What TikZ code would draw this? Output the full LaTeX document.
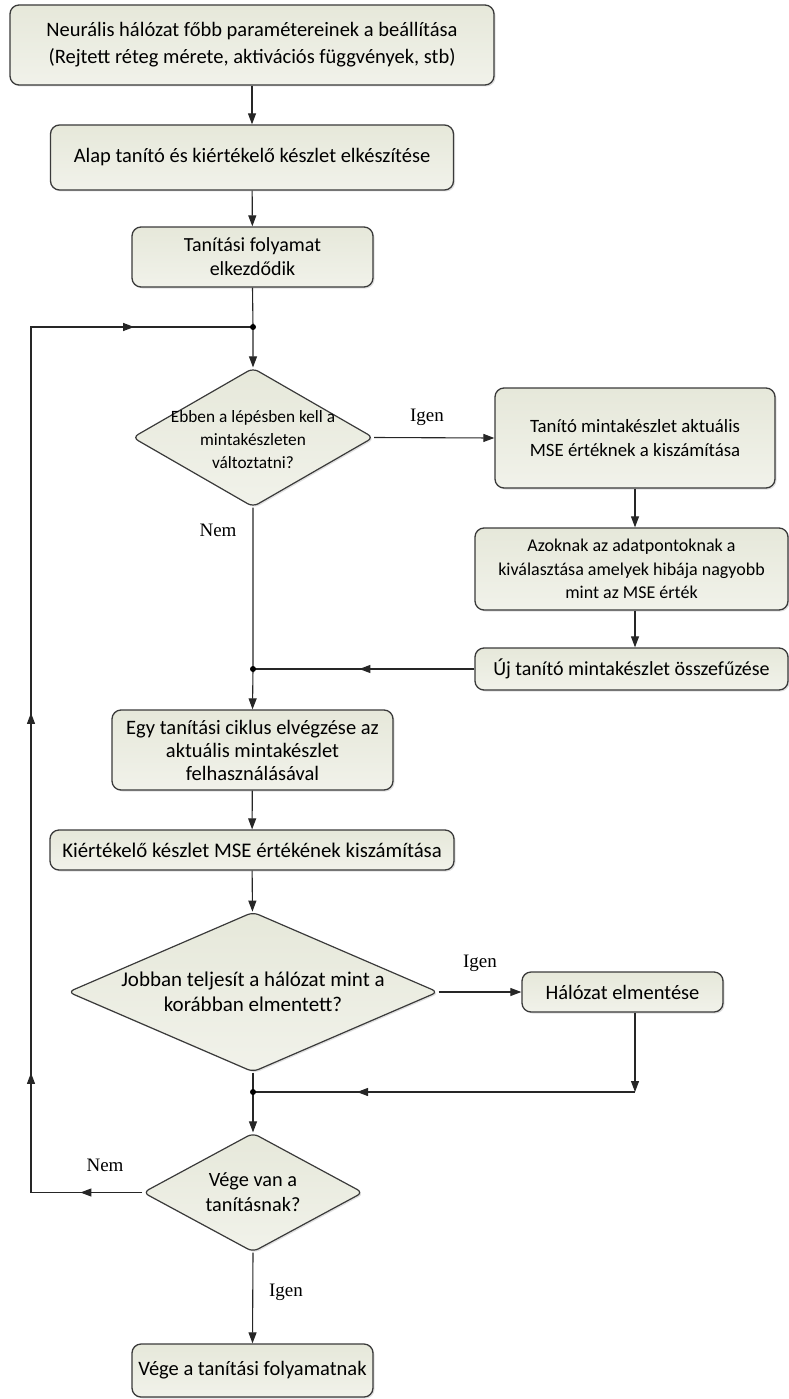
\documentclass[tikz,border=0pt]{standalone}
\usepackage{fontspec}
\setmainfont{Carlito}
\newfontfamily\labelfont{Liberation Serif}
\usetikzlibrary{shapes.geometric,arrows.meta,decorations.markings,shadows}

\definecolor{boxtop}{HTML}{E6E8DA}
\definecolor{boxbot}{HTML}{F1F2EA}
\definecolor{edge}{HTML}{3A3A3A}

\tikzset{
  stepbox/.style={draw=edge, line width=1.3pt, rounded corners=9pt,
    top color=boxtop, bottom color=boxbot, align=center, inner sep=0pt,
    font=\fontsize{20.5}{23}\selectfont,
    drop shadow={shadow xshift=1.5pt, shadow yshift=-1.5pt, fill=black!20, opacity=0.6}},
  small/.style={font=\fontsize{18}{23.5}\selectfont},
  decision/.style={diamond, draw=edge, line width=1.2pt, rounded corners=6pt,
    top color=boxtop, bottom color=boxbot, inner sep=0pt,
    drop shadow={shadow xshift=1.5pt, shadow yshift=-1.5pt, fill=black!20, opacity=0.6}},
  dtext/.style={align=center, inner sep=0pt, font=\fontsize{20.5}{23}\selectfont},
  flow/.style={draw=black!85, line width=1.1pt, -{Triangle[length=11pt,width=8pt]}},
  line/.style={draw=black!85, line width=1.1pt},
  yesno/.style={inner sep=0pt, font=\labelfont\fontsize{19}{19}\selectfont},
  junction/.style={circle, fill=black, inner sep=0pt, minimum size=6pt},
  midtip/.style={postaction={decorate}, decoration={markings,
    mark=at position #1 with {\arrow{Triangle[length=11pt,width=8pt]}}}},
}

\begin{document}
\begin{tikzpicture}[x=1pt,y=-1pt]
  \useasboundingbox (0,0) rectangle (789,1399);

  % main column
  \node[stepbox, font=\fontsize{20.5}{27}\selectfont, minimum width=484pt, minimum height=80pt] (setup) at (252,45)
    {Neurális hálózat főbb paramétereinek a beállítása\\(Rejtett réteg mérete, aktivációs függvények, stb)};
  \node[stepbox, minimum width=403pt, minimum height=65pt] (base) at (252,157.5)
    {Alap tanító és kiértékelő készlet elkészítése};
  \node[stepbox, font=\fontsize{20}{24}\selectfont, minimum width=241pt, minimum height=60pt] (start) at (252.5,257)
    {Tanítási folyamat\\elkezdődik};
  \coordinate (j1) at (253,327);
  \node[decision, minimum width=241pt, minimum height=139pt] (change) at (253,437.5) {};
  \node[dtext, font=\fontsize{17.3}{23}\selectfont] (changetxt) at (253,440)
    {Ebben a lépésben kell a\\mintakészleten\\változtatni?};

  % right branch
  \node[stepbox, font=\fontsize{18.8}{23.5}\selectfont, minimum width=280pt, minimum height=100pt] (mse) at (635,438)
    {Tanító mintakészlet aktuális\\MSE értéknek a kiszámítása};
  \node[stepbox, small, minimum width=313pt, minimum height=82pt] (select) at (631.5,569)
    {Azoknak az adatpontoknak a\\kiválasztása amelyek hibája nagyobb\\mint az MSE érték};
  \node[stepbox, font=\fontsize{20}{23}\selectfont, minimum width=313pt, minimum height=42pt] (merge) at (631.5,669)
    {Új tanító mintakészlet összefűzése};
  \coordinate (j2) at (253,669);

  \node[stepbox, minimum width=281pt, minimum height=80pt] (cycle) at (252.5,750)
    {Egy tanítási ciklus elvégzése az\\aktuális mintakészlet\\felhasználásával};
  \node[stepbox, font=\fontsize{20.8}{23}\selectfont, minimum width=404pt, minimum height=40pt] (eval) at (252,850)
    {Kiértékelő készlet MSE értékének kiszámítása};
  \node[decision, minimum width=370pt, minimum height=160pt] (better) at (253,992) {};
  \node[dtext, font=\fontsize{21}{25}\selectfont] (bettertxt) at (253,992)
    {Jobban teljesít a hálózat mint a\\korábban elmentett?};
  \node[stepbox, minimum width=201pt, minimum height=40pt] (save) at (622.5,992)
    {Hálózat elmentése};
  \coordinate (c3) at (635,1092);
  \coordinate (j3) at (253,1092);
  \node[decision, minimum width=220pt, minimum height=119pt] (finish) at (253,1192.5) {};
  \node[dtext, font=\fontsize{20.3}{25}\selectfont] (finishtxt) at (253,1192.5) {Vége van a\\tanításnak?};
  \node[stepbox, minimum width=241pt, minimum height=53pt] (done) at (252.5,1370.5)
    {Vége a tanítási folyamatnak};
  \coordinate (bl) at (31,1192.5);
  \coordinate (tl) at (31,327);

  % connectors
  \draw[flow] (setup.south -| base.north) -- (base.north);
  \draw[flow] (base) -- (start);
  \draw[flow] (start.south) -- (j1) -- (change.north);
  \draw[flow] (change.east) -- (mse.west);
  \draw[flow] (mse.south) -- (mse.south |- select.north);
  \draw[flow] (select.south -| mse.south) -- (merge.north -| mse.south);
  \draw[line, midtip=115pt] (merge.west) -- (j2);
  \draw[flow] (change.south) -- (j2) -- (cycle.north);
  \draw[flow] (cycle) -- (eval);
  \draw[flow] (eval) -- (better);
  \draw[flow] (better.east) -- (save.west);
  \draw[flow] (save.south -| c3) -- (c3);
  \draw[line, midtip=278pt] (c3) -- (j3);
  \draw[flow] (better.south) -- (j3) -- (finish.north);
  \draw[flow] (finish.south) -- (done.north);
  \draw[line, postaction={decorate}, decoration={markings,
      mark=at position 62pt with {\arrow{Triangle[length=11pt,width=8pt]}},
      mark=at position 231pt with {\arrow{Triangle[length=11pt,width=8pt]}},
      mark=at position 591pt with {\arrow{Triangle[length=11pt,width=8pt]}},
      mark=at position 1080pt with {\arrow{Triangle[length=11pt,width=8pt]}}}]
    (finish.west) -- (bl) -- (tl) -- (j1);

  \node[junction] (dot1) at (j1) {};
  \node[junction] (dot2) at (j2) {};
  \node[junction] (dot3) at (j3) {};

  % branch labels
  \node[yesno] (yes1) at (427,417) {Igen};
  \node[yesno] (no1) at (218,530) {Nem};
  \node[yesno] (yes2) at (480,963) {Igen};
  \node[yesno] (no2) at (105,1165) {Nem};
  \node[yesno] (yes3) at (286,1292) {Igen};
\end{tikzpicture}
\end{document}
